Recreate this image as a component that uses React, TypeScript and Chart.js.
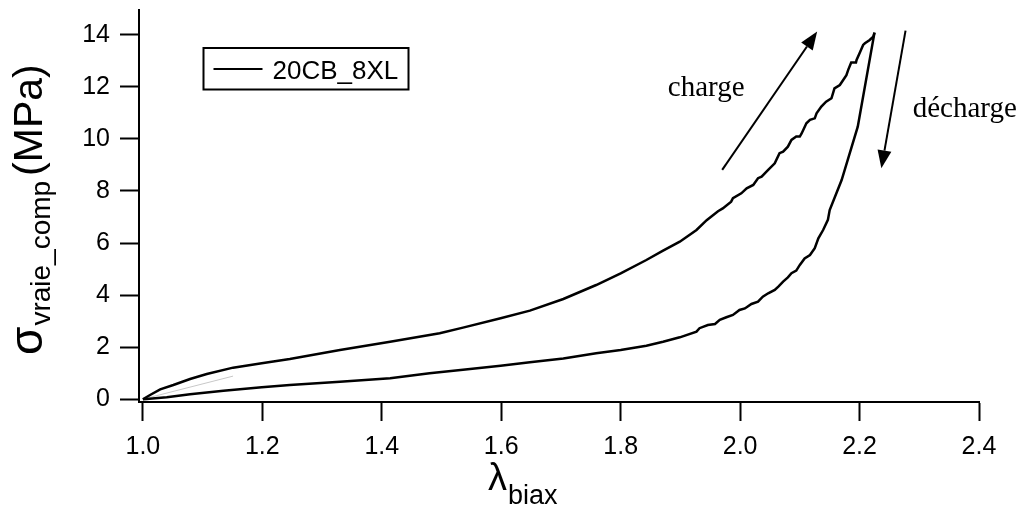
import React, { useEffect, useRef } from 'react';
import { Chart, registerables } from 'chart.js';

Chart.register(...registerables);

// ---- data ----
const xTicks = [1.0, 1.2, 1.4, 1.6, 1.8, 2.0, 2.2, 2.4];
const yTicks = [0, 2, 4, 6, 8, 10, 12, 14];
const seriesLabel = '20CB_8XL';

const loadLambda = [1.000, 1.012, 1.029, 1.051, 1.079, 1.107, 1.151, 1.199, 1.246, 1.330, 1.414, 1.497, 1.536, 1.599, 1.648, 1.704, 1.759, 1.800, 1.843, 1.871, 1.899, 1.927, 1.944, 1.963, 1.971, 1.985, 1.988, 2.002, 2.011, 2.022, 2.030, 2.036, 2.047, 2.058, 2.066, 2.072, 2.080, 2.086, 2.094, 2.100, 2.103, 2.111, 2.117, 2.125, 2.128, 2.136, 2.144, 2.153, 2.158, 2.167, 2.178, 2.181, 2.186, 2.194, 2.195, 2.200, 2.206, 2.209, 2.217, 2.223, 2.225];
const loadSigma = [0, 0.165, 0.383, 0.549, 0.780, 0.972, 1.215, 1.381, 1.548, 1.893, 2.213, 2.533, 2.751, 3.109, 3.404, 3.852, 4.389, 4.837, 5.349, 5.708, 6.053, 6.502, 6.88, 7.22, 7.33, 7.59, 7.72, 7.91, 8.10, 8.23, 8.49, 8.55, 8.81, 9.06, 9.45, 9.51, 9.70, 9.96, 10.09, 10.09, 10.21, 10.60, 10.73, 10.79, 10.98, 11.24, 11.43, 11.56, 11.94, 12.07, 12.45, 12.65, 12.93, 12.93, 13.03, 13.29, 13.61, 13.67, 13.80, 13.93, 14.08];

const unloadLambda = [2.225, 2.197, 2.170, 2.150, 2.147, 2.139, 2.131, 2.125, 2.117, 2.108, 2.100, 2.094, 2.086, 2.080, 2.072, 2.064, 2.058, 2.047, 2.038, 2.030, 2.019, 2.008, 1.999, 1.988, 1.977, 1.966, 1.958, 1.946, 1.932, 1.927, 1.899, 1.871, 1.843, 1.800, 1.759, 1.704, 1.648, 1.599, 1.536, 1.480, 1.414, 1.330, 1.246, 1.199, 1.135, 1.079, 1.040, 1.006, 1.000];
const unloadSigma = [14.08, 10.47, 8.42, 7.27, 6.89, 6.50, 6.18, 5.80, 5.54, 5.41, 5.16, 4.94, 4.84, 4.68, 4.52, 4.33, 4.20, 4.07, 3.94, 3.75, 3.66, 3.49, 3.43, 3.24, 3.15, 3.05, 2.89, 2.85, 2.73, 2.60, 2.38, 2.21, 2.06, 1.89, 1.77, 1.57, 1.42, 1.29, 1.13, 1.00, 0.805, 0.677, 0.549, 0.460, 0.331, 0.191, 0.076, 0.012, 0];

const traceLambda = [1.006, 1.151];
const traceSigma = [0.04, 0.89];

// annotation anchors (data coordinates)
const chargeArrow = { from: [1.970, 8.81], to: [2.129, 14.12] };
const dechargeArrow = { from: [2.277, 14.16], to: [2.2365, 8.87] };
const chargeText = { text: 'charge', at: [1.879, 11.65] };
const dechargeText = { text: 'décharge', at: [2.289, 10.84] };

const SANS = '"Liberation Sans", Arial, Helvetica, sans-serif';
const SERIF = '"Liberation Serif", "Times New Roman", serif';

function toPts(xs: number[], ys: number[]) {
  return xs.map((x, i) => ({ x, y: ys[i] }));
}

function drawArrow(ctx: CanvasRenderingContext2D, x0: number, y0: number, x1: number, y1: number) {
  const ang = Math.atan2(y1 - y0, x1 - x0);
  const headLen = 18;
  const headHalf = 7;
  const bx = x1 - headLen * Math.cos(ang);
  const by = y1 - headLen * Math.sin(ang);
  ctx.beginPath();
  ctx.moveTo(x0, y0);
  ctx.lineTo(bx, by);
  ctx.lineWidth = 2;
  ctx.strokeStyle = '#000';
  ctx.stroke();
  ctx.beginPath();
  ctx.moveTo(x1, y1);
  ctx.lineTo(bx + headHalf * Math.sin(ang), by - headHalf * Math.cos(ang));
  ctx.lineTo(bx - headHalf * Math.sin(ang), by + headHalf * Math.cos(ang));
  ctx.closePath();
  ctx.fillStyle = '#000';
  ctx.fill();
}

const overlayPlugin = {
  id: 'overlay',
  afterDraw(chart: any) {
    const { ctx, chartArea } = chart;
    const xs = chart.scales.x;
    const ys = chart.scales.y;
    ctx.save();

    for (const a of [chargeArrow, dechargeArrow]) {
      drawArrow(
        ctx,
        xs.getPixelForValue(a.from[0]), ys.getPixelForValue(a.from[1]),
        xs.getPixelForValue(a.to[0]), ys.getPixelForValue(a.to[1])
      );
    }
    ctx.fillStyle = '#000';
    ctx.font = `29px ${SERIF}`;
    ctx.textAlign = 'left';
    ctx.textBaseline = 'alphabetic';
    for (const t of [chargeText, dechargeText]) {
      ctx.fillText(t.text, xs.getPixelForValue(t.at[0]), ys.getPixelForValue(t.at[1]));
    }

    // legend box
    const lx = chartArea.left + 64.5;
    const ly = chartArea.top + 38;
    ctx.lineWidth = 2;
    ctx.strokeStyle = '#000';
    ctx.strokeRect(lx, ly, 205, 41.5);
    ctx.beginPath();
    ctx.moveTo(lx + 10, ly + 21);
    ctx.lineTo(lx + 59, ly + 21);
    ctx.lineWidth = 2;
    ctx.stroke();
    ctx.font = `26px ${SANS}`;
    ctx.fillText(seriesLabel, lx + 69, ly + 31);

    // x axis title: λ_biax
    const xt = chartArea.left + 349;
    const xb = chartArea.bottom + 88;
    ctx.font = `38px ${SANS}`;
    ctx.fillText('λ', xt, xb);
    const lw = ctx.measureText('λ').width;
    ctx.font = `27px ${SANS}`;
    ctx.fillText('biax', xt + lw + 1, xb + 14);

    // y axis title: σ_vraie_comp (MPa)
    ctx.translate(42, 355);
    ctx.rotate(-Math.PI / 2);
    ctx.font = `46px ${SANS}`;
    ctx.fillText('σ', 0, 0);
    const sw = ctx.measureText('σ').width;
    ctx.font = `28px ${SANS}`;
    ctx.fillText('vraie_comp', sw + 1, 8);
    const subw = ctx.measureText('vraie_comp').width;
    ctx.font = `41px ${SANS}`;
    ctx.fillText('(MPa)', sw + subw + 6, 0);

    ctx.restore();
  },
};

export default function App() {
  const canvasRef = useRef<HTMLCanvasElement | null>(null);

  useEffect(() => {
    const canvas = canvasRef.current;
    if (!canvas) return;
    const tickFont = { family: SANS, size: 25 };
    const chart = new Chart(canvas, {
      type: 'scatter',
      data: {
        datasets: [
          {
            label: seriesLabel,
            data: toPts(loadLambda, loadSigma),
            showLine: true,
            borderColor: '#000',
            borderWidth: 2.5,
            pointRadius: 0,
            tension: 0,
          },
          {
            label: seriesLabel + ' décharge',
            data: toPts(unloadLambda, unloadSigma),
            showLine: true,
            borderColor: '#000',
            borderWidth: 2.5,
            pointRadius: 0,
            tension: 0,
          },
          {
            label: 'trace',
            data: toPts(traceLambda, traceSigma),
            showLine: true,
            borderColor: 'rgba(0,0,0,0.22)',
            borderWidth: 1,
            pointRadius: 0,
            tension: 0,
          },
        ],
      },
      options: {
        animation: false,
        responsive: false,
        events: [],
        layout: { padding: { left: 0, top: 10, right: 50, bottom: 0 } },
        plugins: { legend: { display: false }, tooltip: { enabled: false } },
        scales: {
          x: {
            type: 'linear',
            min: 0.9935,
            max: 2.4,
            afterBuildTicks: (s: any) => { s.ticks = xTicks.map((v) => ({ value: v })); },
            afterFit: (s: any) => {
              s.height = 106;
              s.paddingLeft = 0; s.paddingRight = 0; s.paddingTop = 0; s.paddingBottom = 0;
            },
            ticks: {
              callback: (v: any) => Number(v).toFixed(1),
              font: tickFont,
              color: '#000',
              padding: 11,
              maxRotation: 0,
              autoSkip: false,
            },
            grid: { drawOnChartArea: false, drawTicks: true, tickLength: 19, tickColor: '#000', tickWidth: 2 },
            border: { display: true, color: '#000', width: 2 },
          },
          y: {
            type: 'linear',
            min: -0.104,
            max: 14.95,
            afterBuildTicks: (s: any) => { s.ticks = yTicks.map((v) => ({ value: v })); },
            afterFit: (s: any) => {
              s.width = 139;
              s.paddingLeft = 0; s.paddingRight = 0; s.paddingTop = 0; s.paddingBottom = 0;
            },
            ticks: {
              callback: (v: any) => String(v),
              font: tickFont,
              color: '#000',
              padding: 10,
              autoSkip: false,
            },
            grid: { drawOnChartArea: false, drawTicks: true, tickLength: 19, tickColor: '#000', tickWidth: 2 },
            border: { display: true, color: '#000', width: 2 },
          },
        },
      },
      plugins: [overlayPlugin],
    } as any);
    return () => chart.destroy();
  }, []);

  return (
    <div style={{ position: 'fixed', left: 0, top: 0, width: 1029, height: 508, background: '#fff' }}>
      <canvas ref={canvasRef} width={1029} height={508} style={{ display: 'block', width: 1029, height: 508 }} />
    </div>
  );
}
